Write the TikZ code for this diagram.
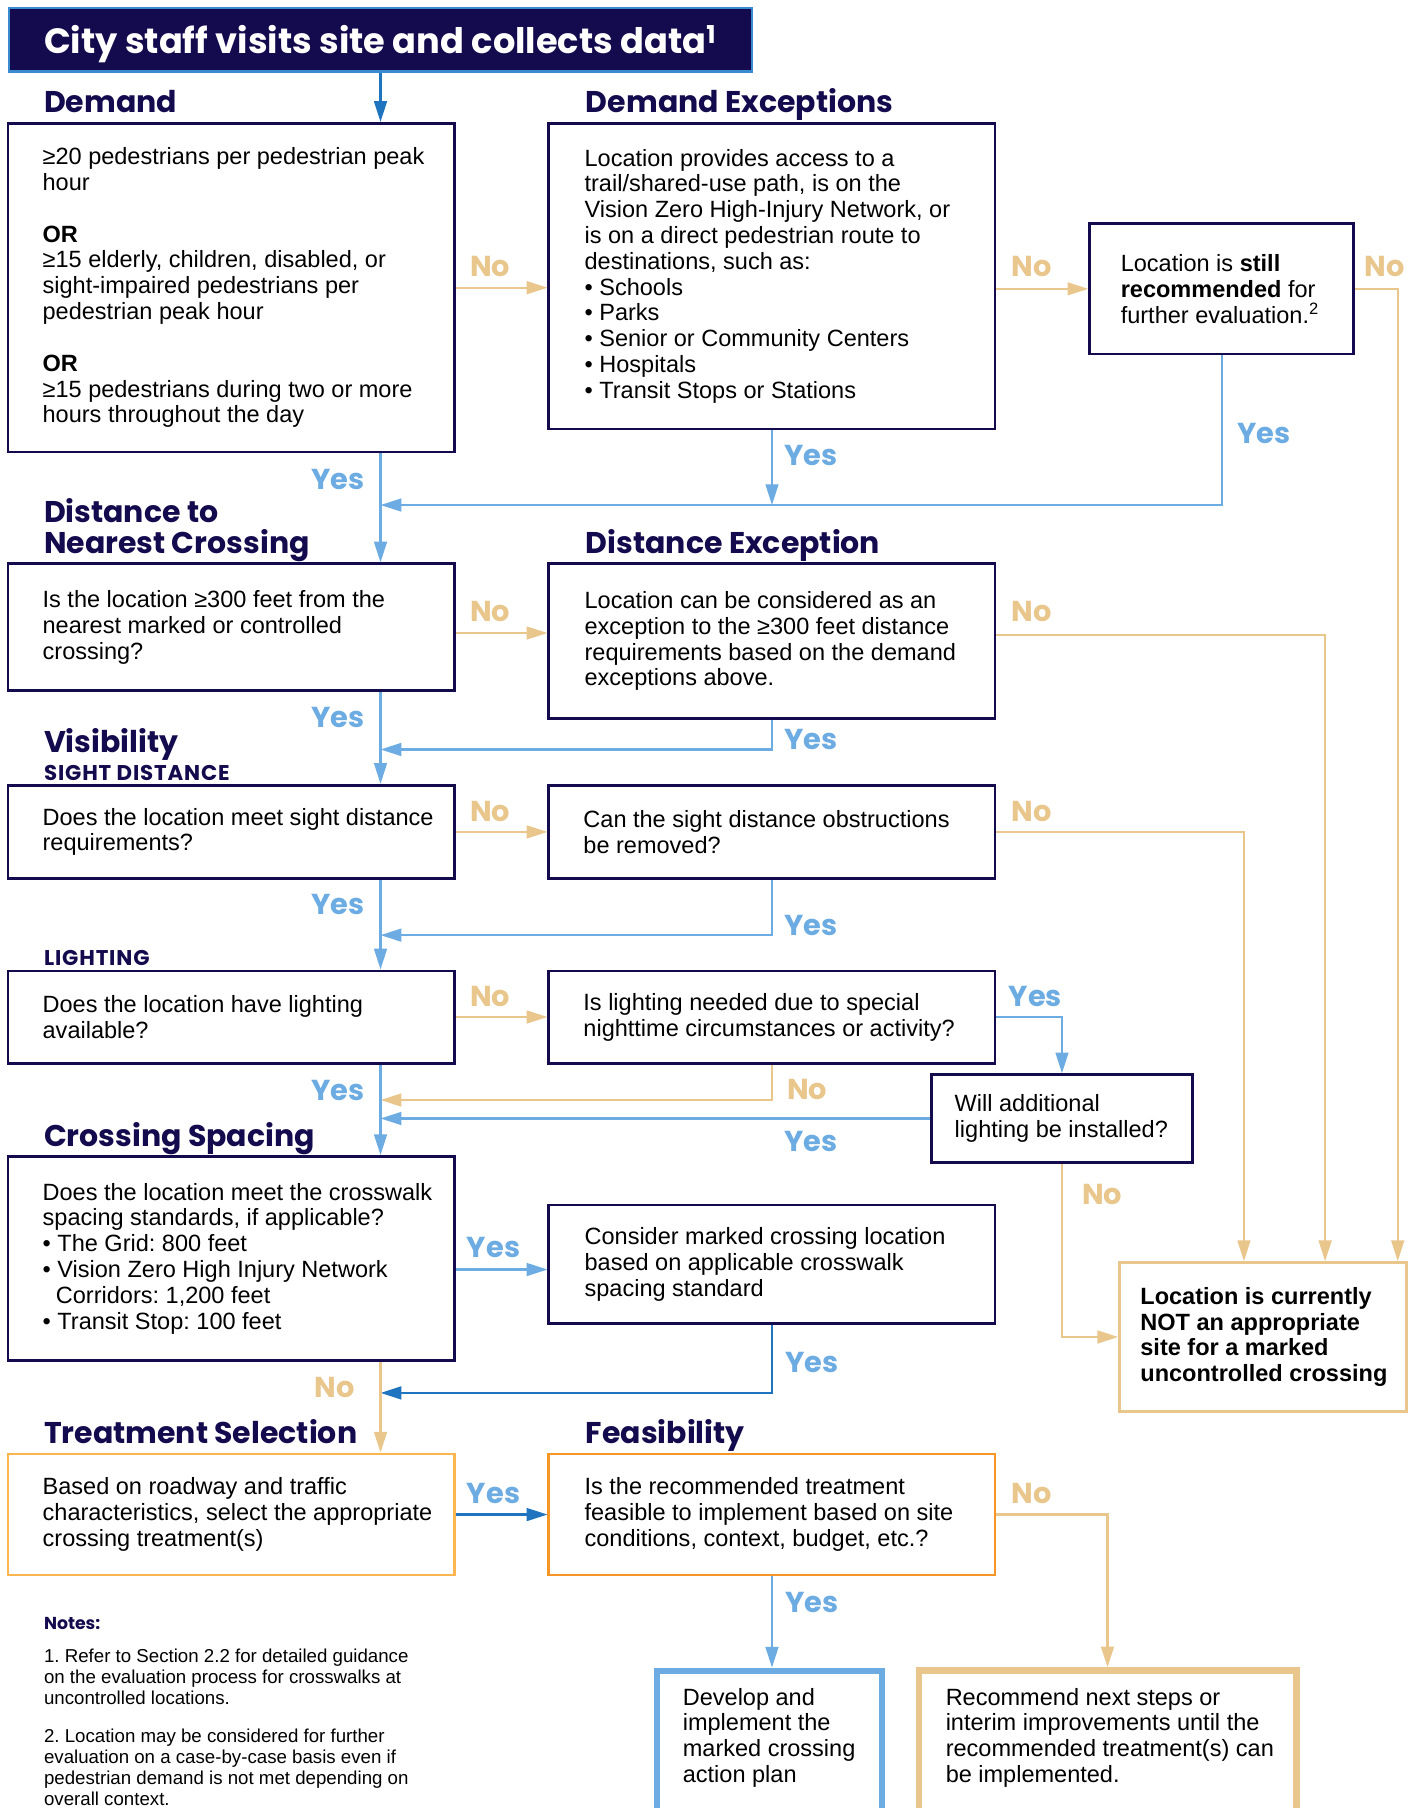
\documentclass[tikz,border=0pt]{standalone}
\usepackage{fontspec}
\setmainfont{Liberation Sans}
\newfontfamily\hfont{Poppins}
\newfontfamily\hfontsp{Poppins}[LetterSpace=4]
\usetikzlibrary{arrows.meta}
\definecolor{navy}{RGB}{20,10,78}
\definecolor{lblue}{RGB}{108,172,226}
\definecolor{dblue}{RGB}{30,116,190}
\definecolor{tanc}{RGB}{233,198,140}
\definecolor{orangeA}{RGB}{251,182,80}
\definecolor{orangeB}{RGB}{247,150,36}
\definecolor{tborder}{RGB}{58,140,208}
\frenchspacing
\begin{document}
\frenchspacing
\begin{tikzpicture}[x=1pt,y=-1pt,
  box/.style={draw=navy, line width=2.4pt, fill=white, inner sep=0pt},
  txt/.style={align=left, inner sep=0pt, anchor=west, text=black, font=\fontsize{20.4pt}{22.4pt}\selectfont},
  notetxt/.style={align=left, inner sep=0pt, anchor=west, text=black, font=\fontsize{16.2pt}{18.3pt}\selectfont},
  hd/.style={anchor=base west, inner sep=0pt, text=navy, font=\hfont\bfseries\fontsize{26pt}{28pt}\selectfont},
  subhd/.style={anchor=base west, inner sep=0pt, text=navy, font=\hfontsp\bfseries\fontsize{18.5pt}{20pt}\selectfont},
  lblY/.style={inner sep=0pt, text=lblue, font=\hfont\bfseries\fontsize{25pt}{26pt}\selectfont},
  lblN/.style={inner sep=0pt, text=tanc, font=\hfont\bfseries\fontsize{25pt}{26pt}\selectfont},
  cy/.style={draw=lblue, line width=2pt, -{Triangle[length=18pt,width=11pt]}},
  cn/.style={draw=tanc, line width=2pt, -{Triangle[length=18pt,width=11pt]}},
  cd/.style={draw=dblue, line width=2pt, -{Triangle[length=18pt,width=11pt]}}
]
\useasboundingbox (0,0) rectangle (1231,1568);
\clip (0,0) rectangle (1231,1568);
\fill[white] (0,0) rectangle (1231,1568);

% title
\node[fill=navy, draw=tborder, line width=2pt, minimum width=644pt, minimum height=55pt, inner sep=0pt] (title) at (330,34.5) {};
\node[anchor=base west, inner sep=0pt, text=white, font=\hfont\bfseries\fontsize{30.5pt}{32pt}\selectfont] (titleT) at (38,46.5) {City staff visits site and collects data\textsuperscript{1}};

% headings
\node[hd] (hDem) at (38,98) {Demand};
\node[hd] (hDex) at (508,98) {Demand Exceptions};
\node[hd] (hDist1) at (38,453) {Distance to};
\node[hd] (hDist2) at (38,480) {Nearest Crossing};
\node[hd] (hDexc) at (508,480) {Distance Exception};
\node[hd] (hVis) at (38,653) {Visibility};
\node[subhd] (hSight) at (38,677) {SIGHT DISTANCE};
\node[subhd] (hLight) at (38,837) {LIGHTING};
\node[hd] (hSpac) at (38,994) {Crossing Spacing};
\node[hd] (hTreat) at (38,1252) {Treatment Selection};
\node[hd] (hFeas) at (508,1252) {Feasibility};

% boxes
\node[box, minimum width=387pt, minimum height=285pt] (dem) at (200.5,249.5) {};
\node[box, minimum width=387pt, minimum height=265pt] (dex) at (669.5,239.5) {};
\node[box, minimum width=229pt, minimum height=113pt] (still) at (1059.5,250.5) {};
\node[box, minimum width=387pt, minimum height=110pt] (dist) at (200.5,544) {};
\node[box, minimum width=387pt, minimum height=134pt] (dexc) at (669.5,556) {};
\node[box, minimum width=387pt, minimum height=81pt] (sight) at (200.5,721.5) {};
\node[box, minimum width=387pt, minimum height=81pt] (obst) at (669.5,721.5) {};
\node[box, minimum width=387pt, minimum height=80pt] (light) at (200.5,882) {};
\node[box, minimum width=387pt, minimum height=80pt] (spec) at (669.5,882) {};
\node[box, minimum width=226pt, minimum height=76pt] (will) at (921,970) {};
\node[box, minimum width=387pt, minimum height=177pt] (spac) at (200.5,1091.5) {};
\node[box, minimum width=387pt, minimum height=103pt] (cons) at (669.5,1096.5) {};
\node[box, draw=tanc, minimum width=249pt, minimum height=129pt] (notb) at (1095.5,1159.5) {};
\node[box, draw=orangeA, minimum width=387pt, minimum height=105pt] (treat) at (200.5,1313.5) {};
\node[box, draw=orangeB, minimum width=387pt, minimum height=105pt] (feas) at (669.5,1313.5) {};
\node[box, draw=lblue, line width=5.5pt, minimum width=195pt, minimum height=123pt] (dev) at (667.5,1510.5) {};
\node[box, draw=tanc, line width=6pt, minimum width=327pt, minimum height=123pt] (rec) at (960.5,1510.5) {};

% box texts
\node[txt] (demT) at ([xshift=31pt]dem.west) {≥20 pedestrians per pedestrian peak\\hour\\[22.4pt]\textbf{OR}\\≥15 elderly, children, disabled, or\\sight-impaired pedestrians per\\pedestrian peak hour\\[22.4pt]\textbf{OR}\\≥15 pedestrians during two or more\\hours throughout the day};
\node[txt] (dexT) at ([xshift=32pt]dex.west) {Location provides access to a\\trail/shared-use path, is on the\\Vision Zero High-Injury Network, or\\is on a direct pedestrian route to\\destinations, such as:\\• Schools\\• Parks\\• Senior or Community Centers\\• Hospitals\\• Transit Stops or Stations};
\node[txt] (stillT) at ([xshift=28pt]still.west) {Location is \textbf{still}\\\textbf{recommended} for\\further evaluation.\textsuperscript{2}};
\node[txt] (distT) at ([xshift=31pt]dist.west) {Is the location ≥300 feet from the\\nearest marked or controlled\\crossing?};
\node[txt] (dexcT) at ([xshift=32pt]dexc.west) {Location can be considered as an\\exception to the ≥300 feet distance\\requirements based on the demand\\exceptions above.};
\node[txt] (sightT) at ([xshift=31pt]sight.west) {Does the location meet sight distance\\requirements?};
\node[txt] (obstT) at ([xshift=31pt]obst.west) {Can the sight distance obstructions\\be removed?};
\node[txt] (lightT) at ([xshift=31pt]light.west) {Does the location have lighting\\available?};
\node[txt] (specT) at ([xshift=31pt]spec.west) {Is lighting needed due to special\\nighttime circumstances or activity?};
\node[txt] (willT) at ([xshift=21pt]will.west) {Will additional\\lighting be installed?};
\node[txt] (spacT) at ([xshift=31pt]spac.west) {Does the location meet the crosswalk\\spacing standards, if applicable?\\• The Grid: 800 feet\\• Vision Zero High Injury Network\\\hspace*{11.5pt}Corridors: 1,200 feet\\• Transit Stop: 100 feet};
\node[txt] (consT) at ([xshift=32pt]cons.west) {Consider marked crossing location\\based on applicable crosswalk\\spacing standard};
\node[txt, font=\bfseries\fontsize{20.4pt}{22.4pt}\selectfont] (notbT) at ([xshift=19pt]notb.west) {Location is currently\\NOT an appropriate\\site for a marked\\uncontrolled crossing};
\node[txt] (treatT) at ([xshift=31pt]treat.west) {Based on roadway and traffic\\characteristics, select the appropriate\\crossing treatment(s)};
\node[txt] (feasT) at ([xshift=32pt]feas.west) {Is the recommended treatment\\feasible to implement based on site\\conditions, context, budget, etc.?};
\node[txt] (devT) at (592,1507) {Develop and\\implement the\\marked crossing\\action plan};
\node[txt] (recT) at (820,1507) {Recommend next steps or\\interim improvements until the\\recommended treatment(s) can\\be implemented.};

% notes
\node[anchor=base west, inner sep=0pt, text=navy, font=\hfont\bfseries\fontsize{15pt}{16pt}\selectfont] (notesH) at (38,1413) {Notes:};
\node[notetxt] (note1) at (38,1454) {1. Refer to Section 2.2 for detailed guidance\\on the evaluation process for crosswalks at\\uncontrolled locations.};
\node[notetxt] (note2) at (38,1533) {2. Location may be considered for further\\evaluation on a case-by-case basis even if\\pedestrian demand is not met depending on\\overall context.};

% coordinates
\coordinate (sp) at (330,0);
\coordinate (m1) at (330,438);
\coordinate (m2) at (330,650);
\coordinate (m3) at (330,811);
\coordinate (m4) at (330,954);
\coordinate (m6) at (330,1208);
\coordinate (a7) at ([yshift=-5pt]dist.east);
\coordinate (a8) at ([yshift=5pt]dexc.east);
\coordinate (a21) at ([yshift=-4.5pt]cons.west);

% connectors
\draw[cd] (title.south -| sp) -- (dem.north -| sp);
\draw[cn] (dem.east) -- (dem.east -| dex.west);
\draw[cn] (dex.east |- still.west) -- (still.west);
\draw[cn] (still.east) -| ([xshift=-9pt]notb.north east);
\draw[cy] (dem.south -| sp) -- (dist.north -| sp);
\draw[cy] (dex.south) -- (dex.south |- m1);
\draw[cy] (still.south) |- (m1);
\draw[cn] (a7) -- (a7 -| dexc.west);
\draw[cn] (a8) -| ([xshift=-72pt]notb.north east);
\draw[cy] (dist.south -| sp) -- (sight.north -| sp);
\draw[cy] (dexc.south) |- (m2);
\draw[cn] (sight.east) -- (sight.east -| obst.west);
\draw[cn] (obst.east) -| ([xshift=109pt]notb.north west);
\draw[cy] (sight.south -| sp) -- (light.north -| sp);
\draw[cy] (obst.south) |- (m3);
\draw[cn] (light.east) -- (light.east -| spec.west);
\draw[cy] (spec.east) -| (will.north);
\draw[cn] (spec.south) |- (m4);
\draw[cy] (will.west) -- (will.west -| sp);
\draw[cn] (will.south) |- (notb.west);
\draw[cy] (light.south -| sp) -- (spac.north -| sp);
\draw[cy] (a21 -| spac.east) -- (a21);
\draw[cd] (cons.south) |- (m6);
\draw[cn] (spac.south -| sp) -- (treat.north -| sp);
\draw[cd] (treat.east) -- (treat.east -| feas.west);
\draw[cn] (feas.east) -| (rec.north);
\draw[cy] (feas.south) -- (feas.south |- dev.north);

% labels
\node[lblN] (l1) at (425,231) {No};
\node[lblN] (l2) at (895,231) {No};
\node[lblN] (l3) at (1201,231) {No};
\node[lblY] (l4) at (293,416) {Yes};
\node[lblY] (l5) at (703,395) {Yes};
\node[lblY] (l6) at (1096,376) {Yes};
\node[lblN] (l7) at (425,530) {No};
\node[lblN] (l8) at (895,530) {No};
\node[lblY] (l9) at (293,622) {Yes};
\node[lblY] (l10) at (703,641) {Yes};
\node[lblN] (l11) at (425,704) {No};
\node[lblN] (l12) at (895,704) {No};
\node[lblY] (l13) at (293,784) {Yes};
\node[lblY] (l14) at (703,803) {Yes};
\node[lblN] (l15) at (425,864) {No};
\node[lblY] (l16) at (898,864) {Yes};
\node[lblY] (l17) at (293,946) {Yes};
\node[lblN] (l18) at (700,945) {No};
\node[lblY] (l19) at (703,990) {Yes};
\node[lblN] (l20) at (956,1036) {No};
\node[lblY] (l21) at (428,1082) {Yes};
\node[lblY] (l22) at (704,1182) {Yes};
\node[lblN] (l23) at (290,1203) {No};
\node[lblY] (l24) at (428,1295) {Yes};
\node[lblN] (l25) at (895,1295) {No};
\node[lblY] (l26) at (704,1390) {Yes};
\end{tikzpicture}
\end{document}
